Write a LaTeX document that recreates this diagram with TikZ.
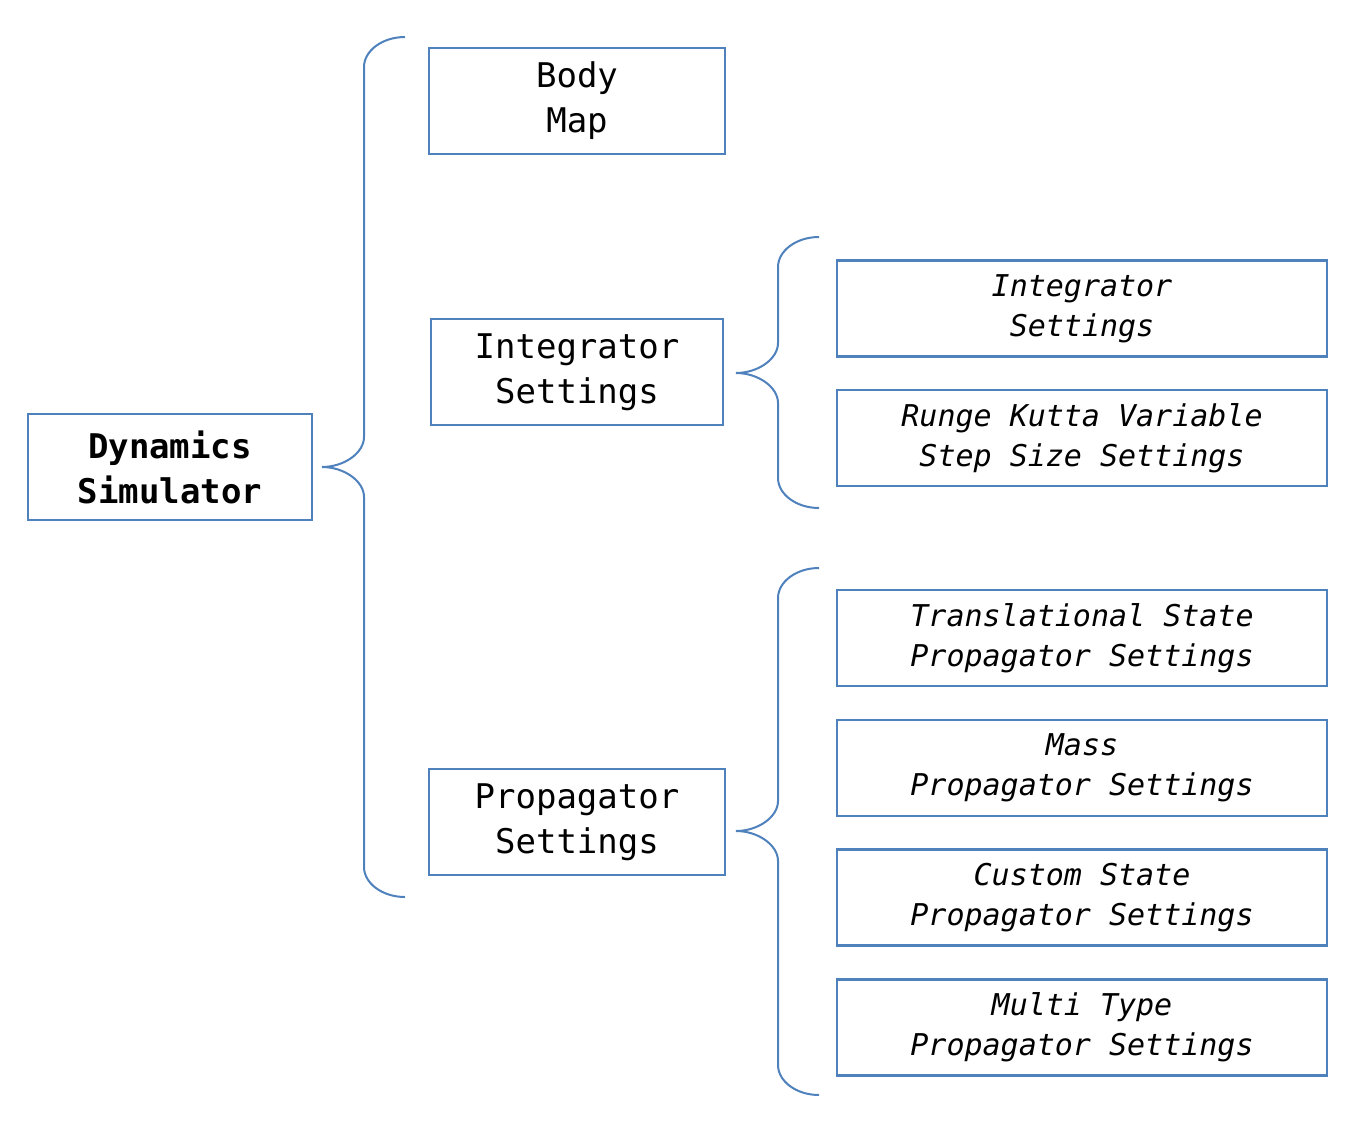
\documentclass[tikz,border=0pt]{standalone}
\usepackage{fontspec}
\setmonofont{DejaVu Sans Mono}
\usepackage{xcolor}
\usepackage{tikz}
\usetikzlibrary{calc}

\definecolor{boxblue}{HTML}{4F81BD}

% curly bracket: vertical x, top y, tip y, bottom y
\newcommand{\curlybrace}[4]{%
  \draw[bracket] (#1+41,#2) .. controls (#1+18,#2) and (#1,#2+14) .. (#1,#2+30)
    -- (#1,#3-30) .. controls (#1,#3-14) and (#1-20,#3) .. (#1-42,#3)
    .. controls (#1-20,#3) and (#1,#3+14) .. (#1,#3+30)
    -- (#1,#4-30) .. controls (#1,#4-14) and (#1+18,#4) .. (#1+41,#4);}

\begin{document}
\begin{tikzpicture}[x=1pt, y=-1pt,
    bracket/.style={boxblue, line width=2pt},
    mainbox/.style={draw=boxblue, line width=2.5pt, align=center, inner sep=0pt,
      font=\fontsize{34}{45}\selectfont\ttfamily},
    subbox/.style={draw=boxblue, line width=2.5pt, align=center, inner sep=0pt,
      minimum width=490pt, minimum height=96pt,
      font=\fontsize{30}{40}\selectfont\ttfamily\itshape}]
  \useasboundingbox (0,0) rectangle (1368,1122);

  \node[mainbox, minimum width=284pt, minimum height=106pt, font=\fontsize{34}{45}\selectfont\ttfamily\bfseries]
    (dynsim) at (170,467) {Dynamics\\Simulator};

  \curlybrace{364}{37}{467}{897}

  \node[mainbox, minimum width=296pt, minimum height=106pt] (bodymap) at (577,101) {Body\\Map};
  \node[mainbox, minimum width=292pt, minimum height=106pt] (integset) at (577,372) {Integrator\\Settings};
  \node[mainbox, minimum width=296pt, minimum height=106pt] (propset) at (577,822) {Propagator\\Settings};

  \curlybrace{778}{237}{373}{508}
  \curlybrace{778}{568}{831}{1095}

  \node[subbox] (integsub) at (1082,308.5) {Integrator\\Settings};
  \node[subbox] (rkvss) at (1082,438) {Runge Kutta Variable\\Step Size Settings};

  \node[subbox] (transprop) at (1082,638) {Translational State\\Propagator Settings};
  \node[subbox] (massprop) at (1082,768) {Mass\\Propagator Settings};
  \node[subbox] (customprop) at (1082,897.5) {Custom State\\Propagator Settings};
  \node[subbox] (multiprop) at (1082,1027.5) {Multi Type\\Propagator Settings};
\end{tikzpicture}
\end{document}
